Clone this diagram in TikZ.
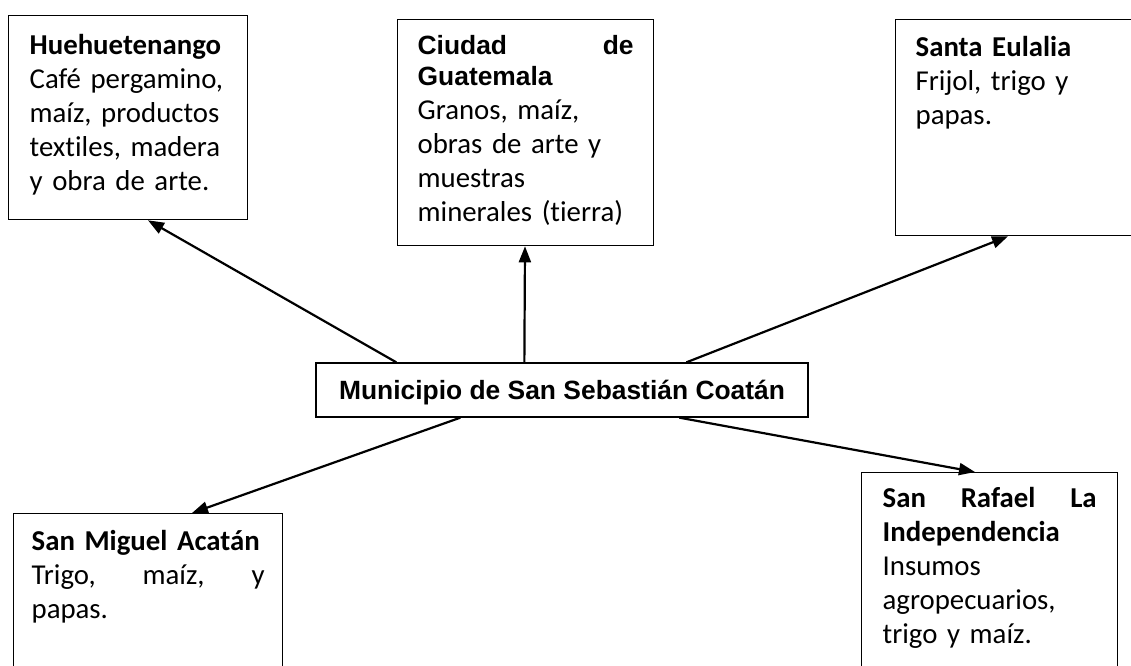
\documentclass[tikz,border=0pt]{standalone}
\usepackage{fontspec}
\setmainfont{Carlito}[Ligatures=NoCommon]
\newfontfamily\arialfont{Liberation Sans}
\usetikzlibrary{arrows.meta}

\tikzset{
  lugar/.style={draw, line width=1.3pt, anchor=north west, align=left,
    inner ysep=0pt, inner xsep=20pt, font=\fontsize{28.8}{34}\selectfont},
  flecha/.style={line width=2.2pt, -{Triangle[length=16pt,width=12pt]}}
}

\begin{document}
\begin{tikzpicture}[x=1pt,y=-1pt]
\useasboundingbox (0,0) rectangle (1131,665);
\clip (0,0) rectangle (1131,665);
% destinos
\node[lugar, inner xsep=21pt, text width=197pt, text height=39pt, text depth=165pt] (hue) at (8,15)
  {\textbf{Huehuetenango}\\Café pergamino,\\maíz, productos\\textiles, madera\\y obra de arte.};
\node[lugar, text width=216pt, text height=35pt, text depth=191pt] (ciu) at (397,19)
  {{\arialfont\bfseries\fontsize{26.4}{30.5}\selectfont Ciudad\hfill de\\Guatemala\par}Granos, maíz,\\obras de arte y\\muestras\\minerales (tierra)};
\node[lugar, text width=201pt, text height=37pt, text depth=179pt] (eul) at (895,19)
  {\textbf{Santa Eulalia}\\Frijol, trigo y\\papas.};
\node[lugar, inner xsep=18pt, text width=233pt, text height=37pt, text depth=130pt] (mig) at (13,513)
  {\textbf{San Miguel Acatán}\\Trigo,\hfill maíz,\hfill y\\papas.};
\node[lugar, inner xsep=21pt, text width=214pt, text height=35pt, text depth=173pt] (raf) at (861,472)
  {\textbf{San\hfill Rafael\hfill La}\\\textbf{Independencia}\\Insumos\\agropecuarios,\\trigo y maíz.};
% municipio
\node[draw, line width=1.3pt, minimum width=492pt, minimum height=54pt, inner sep=0pt,
  text height=19pt, text depth=0pt, font=\arialfont\bfseries\fontsize{26.4}{30}\selectfont] (muni) at (562,390)
  {Municipio de San Sebastián Coatán};
% flechas
\draw[flecha] ([xshift=81pt]muni.north west) -- ([xshift=140pt]hue.south west);
\draw[flecha] ([xshift=209pt]muni.north west) -- ([xshift=128pt]ciu.south west);
\draw[flecha] ([xshift=371pt]muni.north west) -- ([xshift=113pt]eul.south west);
\draw[flecha] ([xshift=145pt]muni.south west) -- ([xshift=179pt]mig.north west);
\draw[flecha] ([xshift=364pt]muni.south west) -- ([xshift=114pt]raf.north west);
\end{tikzpicture}
\end{document}
